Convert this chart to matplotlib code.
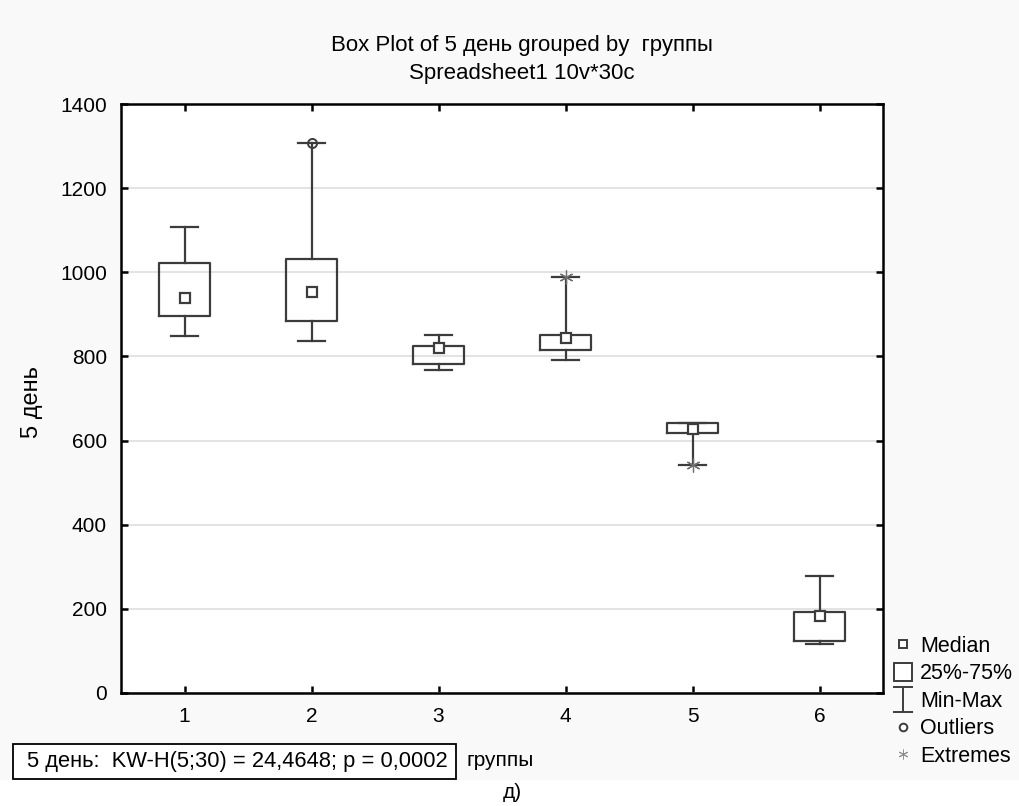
import matplotlib.pyplot as plt
import numpy as np
from matplotlib.lines import Line2D
from matplotlib.path import Path
from matplotlib.patches import Rectangle

plt.rcParams['font.family'] = ['Liberation Sans', 'DejaVu Sans']

# Data
groups = [1, 2, 3, 4, 5, 6]
q1 = [895, 885, 782, 815, 618, 123]
q3 = [1023, 1032, 825, 852, 642, 192]
medians = [938, 953, 820, 843, 627, 184]
mins = [848, 836, 768, 791, 543, 117]
maxs = [1108, 1307, 851, 988, 642, 278]
outliers = {2: [1307]}
extremes = {4: [988], 5: [543]}

line_col = '#3c3c3c'
W, H = 1019, 806

fig = plt.figure(figsize=(W / 100, H / 100), dpi=100, facecolor='#f9f9f9')
fig.add_artist(Rectangle((0, 0), 1, 26 / H, transform=fig.transFigure,
                         facecolor='white', edgecolor='none', zorder=0))
ax = fig.add_axes([121 / W, 1 - 693 / H, (883 - 121) / W, (693 - 104) / H])

stats = []
for i in range(len(groups)):
    stats.append({'med': medians[i], 'q1': q1[i], 'q3': q3[i],
                  'whislo': mins[i], 'whishi': maxs[i], 'fliers': []})

ax.bxp(stats, positions=groups, widths=0.4, showfliers=False,
       boxprops=dict(color=line_col, linewidth=1.6),
       whiskerprops=dict(color=line_col, linewidth=1.6),
       capprops=dict(color=line_col, linewidth=1.6),
       medianprops=dict(linestyle='none'), capwidths=0.21, zorder=3)

# median squares
ax.plot(groups, medians, 's', ms=6.5, mfc='white', mec=line_col, mew=1.6, zorder=4)

# outliers and extremes
for g, vals in outliers.items():
    ax.plot([g] * len(vals), vals, 'o', ms=6.5, mfc='none', mec=line_col, mew=1.4, zorder=5)
for g, vals in extremes.items():
    ax.plot([g] * len(vals), vals, marker=(6, 2, 0), ls='none', ms=10,
            mec='#707070', mew=0.9, zorder=5)

ax.set_xlim(0.5, 6.5)
ax.set_ylim(0, 1400)
ax.set_xticks(groups)
ax.set_yticks(np.arange(0, 1401, 200))
ax.yaxis.grid(True, color='#dedede', linewidth=1.2)
ax.set_axisbelow(True)
for s in ax.spines.values():
    s.set_linewidth(1.8)
ax.tick_params(direction='in', length=5, width=1.8, top=True, right=True,
               labelsize=15, pad=10)
ax.tick_params(axis='x', pad=10)
ax.set_ylabel('5 день', fontsize=17)
ax.yaxis.set_label_coords((43 - 121) / (883 - 121), (693 - 402) / (693 - 104))

fig.text(522 / W, 1 - 45 / H, 'Box Plot of 5 день grouped by  группы',
         ha='center', va='center', fontsize=16)
fig.text(522 / W, 1 - 73 / H, 'Spreadsheet1 10v*30c',
         ha='center', va='center', fontsize=16)
fig.text(466 / W, 1 - 760 / H, 'группы', ha='left', va='center', fontsize=15)

# statistics box
fig.add_artist(Rectangle((13 / W, 1 - 779 / H), (456 - 13) / W, (779 - 744) / H,
                         transform=fig.transFigure, facecolor='white',
                         edgecolor='black', lw=1.3, zorder=2))
fig.text(27 / W, 1 - 762 / H, '5 день:  KW-H(5;30) = 24,4648; p = 0,0002',
         ha='left', va='center', fontsize=15.75, zorder=3)
fig.text(512 / W, 1 - 793 / H, 'д)', ha='center', va='center', fontsize=15)

# legend
i_marker = Path([(-0.4, -0.5), (0.4, -0.5), (0, -0.5), (0, 0.5), (-0.4, 0.5), (0.4, 0.5)],
                [Path.MOVETO, Path.LINETO, Path.MOVETO, Path.LINETO, Path.MOVETO, Path.LINETO])
handles = [
    Line2D([], [], ls='none', marker='s', ms=6, mfc='white', mec=line_col, mew=1.4),
    Line2D([], [], ls='none', marker='s', ms=13, mfc='white', mec=line_col, mew=1.4),
    Line2D([], [], ls='none', marker=i_marker, ms=18, mfc='none', mec=line_col, mew=1.4),
    Line2D([], [], ls='none', marker='o', ms=5.5, mfc='white', mec=line_col, mew=1.4),
    Line2D([], [], ls='none', marker=(6, 2, 0), ms=7, mec='#909090', mew=0.7),
]
labels = ['Median', '25%-75%', 'Min-Max', 'Outliers', 'Extremes']
fig.legend(handles, labels, loc='upper left', bbox_to_anchor=(892 / W, 1 - 636 / H),
           frameon=False, fontsize=15.5, handlelength=1.0, handletextpad=0.3,
           labelspacing=0.3, borderpad=0, borderaxespad=0)

fig.savefig('out.png', dpi=100, facecolor=fig.get_facecolor())
